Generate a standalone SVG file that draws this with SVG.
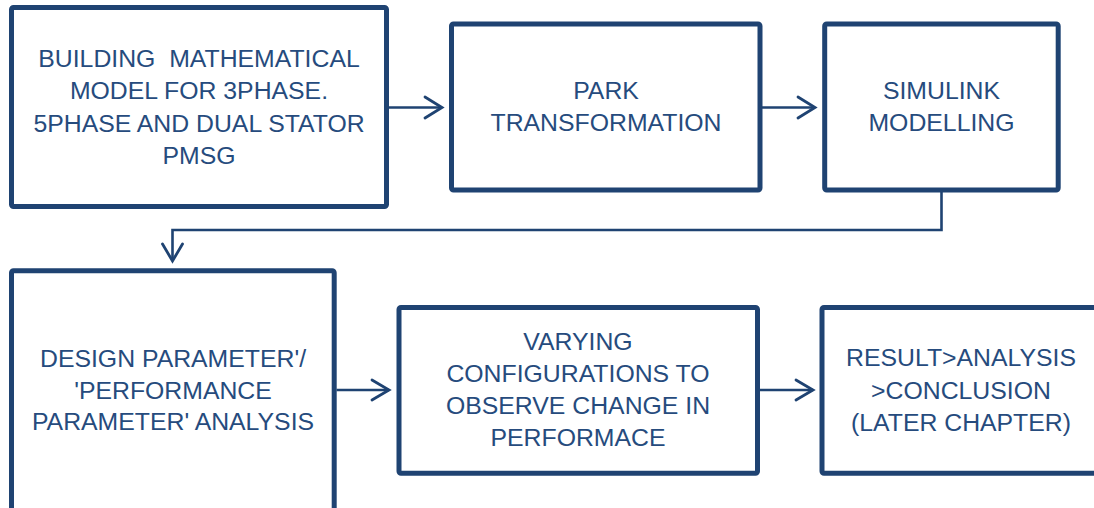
<svg xmlns="http://www.w3.org/2000/svg" width="1094" height="508" viewBox="0 0 1094 508">
<defs>
<style>
.box{fill:#ffffff;stroke:#1f4372;stroke-width:5;}
.lbl{font-family:"Liberation Sans",Arial,sans-serif;font-size:24.8px;fill:#264b7d;text-anchor:middle;}
.con{fill:none;stroke:#1f4372;stroke-width:2.6;}
.head{fill:none;stroke:#1f4372;stroke-width:2.8;stroke-linecap:round;stroke-linejoin:miter;}
</style>
</defs>
<rect width="1094" height="508" fill="#ffffff"/>
<g id="connectors">
<line class="con" x1="389" y1="107.5" x2="442" y2="107.5"/>
<polyline class="head" points="425,97 442,107.5 425,118"/>
<line class="con" x1="762" y1="107.5" x2="815" y2="107.5"/>
<polyline class="head" points="798,97 815,107.5 798,118"/>
<polyline class="con" points="941.5,192 941.5,230 172.5,230 172.5,261"/>
<polyline class="head" points="162.5,244 172.5,261 182.5,244"/>
<line class="con" x1="336.5" y1="390" x2="389" y2="390"/>
<polyline class="head" points="372,380 389,390 372,400"/>
<line class="con" x1="760" y1="390" x2="813" y2="390"/>
<polyline class="head" points="796,380 813,390 796,400"/>
</g>
<g id="node1">
<rect class="box" x="11.5" y="7.5" width="375" height="199" rx="2"/>
<text class="lbl" x="199" y="66.5" xml:space="preserve">BUILDING  MATHEMATICAL</text>
<text class="lbl" x="199" y="99">MODEL FOR 3PHASE.</text>
<text class="lbl" x="199" y="131.5">5PHASE AND DUAL STATOR</text>
<text class="lbl" x="199" y="164">PMSG</text>
</g>
<g id="node2">
<rect class="box" x="451.5" y="24" width="308.5" height="166" rx="2"/>
<text class="lbl" x="606" y="99">PARK</text>
<text class="lbl" x="606" y="131">TRANSFORMATION</text>
</g>
<g id="node3">
<rect class="box" x="824.7" y="24" width="233.5" height="166" rx="2"/>
<text class="lbl" x="941.5" y="99">SIMULINK</text>
<text class="lbl" x="941.5" y="131">MODELLING</text>
</g>
<g id="node4">
<rect class="box" x="11.5" y="270.8" width="322.7" height="260" rx="2"/>
<text class="lbl" x="173" y="366.5">DESIGN PARAMETER'/</text>
<text class="lbl" x="173" y="398.5">'PERFORMANCE</text>
<text class="lbl" x="173" y="430">PARAMETER' ANALYSIS</text>
</g>
<g id="node5">
<rect class="box" x="399" y="307.5" width="358.5" height="165.8" rx="2"/>
<text class="lbl" x="578" y="350">VARYING</text>
<text class="lbl" x="578" y="382">CONFIGURATIONS TO</text>
<text class="lbl" x="578" y="414">OBSERVE CHANGE IN</text>
<text class="lbl" x="578" y="446">PERFORMACE</text>
</g>
<g id="node6">
<rect class="box" x="822" y="307.5" width="280" height="165.8" rx="2"/>
<text class="lbl" x="961" y="366">RESULT&gt;ANALYSIS</text>
<text class="lbl" x="961" y="398.5">&gt;CONCLUSION</text>
<text class="lbl" x="961" y="430.5">(LATER CHAPTER)</text>
</g>
</svg>
